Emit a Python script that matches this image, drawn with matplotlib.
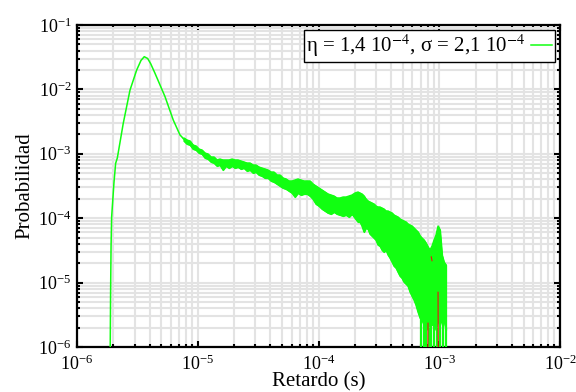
import numpy as np
import matplotlib.pyplot as plt
from matplotlib.ticker import LogLocator, NullFormatter

# Values, kept as log10 exponents
# (retardo in s, probabilidad)

# smooth rise and peak
log_t_suave = [-5.726, -5.722, -5.718, -5.713, -5.694, -5.680, -5.666, -5.617,
               -5.561, -5.506, -5.470, -5.443, -5.415, -5.390, -5.354, -5.271,
               -5.203, -5.147, -5.133, -5.114]
log_p_suave = [-6.300, -5.200, -4.440, -3.977, -3.450, -3.148, -3.065, -2.527,
               -2.010, -1.700, -1.550, -1.492, -1.520, -1.600, -1.750, -2.113,
               -2.475, -2.708, -2.735, -2.778]

# noisy tail: band of the fluctuations (upper and lower edge)
log_t_banda = [-5.114, -5.089, -5.064, -5.039, -5.014, -4.990, -4.965, -4.940,
               -4.915, -4.890, -4.865, -4.841, -4.816, -4.791, -4.766, -4.741,
               -4.716, -4.692, -4.667, -4.642, -4.617, -4.592, -4.567, -4.542,
               -4.518, -4.493, -4.468, -4.443, -4.418, -4.393, -4.369, -4.344,
               -4.319, -4.294, -4.269, -4.244, -4.219, -4.195, -4.170, -4.145,
               -4.120, -4.095, -4.070, -4.046, -4.021, -3.996, -3.971, -3.946,
               -3.921, -3.896, -3.872, -3.847, -3.822, -3.797, -3.772, -3.747,
               -3.723, -3.698, -3.673,
               -3.656, -3.640, -3.623, -3.607, -3.590, -3.574, -3.557, -3.540,
               -3.524, -3.507, -3.491, -3.474, -3.458, -3.441, -3.424, -3.408,
               -3.391, -3.375, -3.358, -3.342, -3.325, -3.309, -3.292, -3.275,
               -3.259, -3.242, -3.226, -3.209, -3.193, -3.176, -3.159, -3.143,
               -3.126, -3.110, -3.093, -3.077, -3.060, -3.043, -3.027, -3.010,
               -2.994, -2.977, -2.961, -2.944]
log_p_alta = [-2.755, -2.786, -2.801, -2.863, -2.879, -2.926, -2.941, -2.988,
              -3.003, -3.050, -3.050, -3.096, -3.081, -3.096, -3.096, -3.096,
              -3.081, -3.096, -3.096, -3.112, -3.127, -3.143, -3.143, -3.174,
              -3.174, -3.205, -3.221, -3.236, -3.252, -3.283, -3.283, -3.329,
              -3.329, -3.376, -3.391, -3.422, -3.422, -3.407, -3.391, -3.407,
              -3.422, -3.422, -3.422, -3.469, -3.500, -3.531, -3.562, -3.593,
              -3.624, -3.640, -3.655, -3.686, -3.686, -3.671, -3.671, -3.655,
              -3.640, -3.609, -3.593,
              -3.609, -3.624, -3.655, -3.702, -3.733, -3.748, -3.764, -3.780,
              -3.811, -3.826, -3.826, -3.842, -3.857, -3.888, -3.888, -3.904,
              -3.919, -3.950, -3.966, -3.981, -4.012, -4.028, -4.044, -4.059,
              -4.090, -4.106, -4.121, -4.152, -4.183, -4.214, -4.276, -4.308,
              -4.339, -4.385, -4.447, -4.494, -4.432, -4.339, -4.261, -4.121,
              -4.183, -4.571, -4.680, -4.727]
log_p_baja = [-2.801, -2.848, -2.863, -2.926, -2.941, -2.988, -3.003, -3.065,
              -3.081, -3.127, -3.143, -3.189, -3.174, -3.252, -3.189, -3.221,
              -3.189, -3.221, -3.205, -3.236, -3.221, -3.267, -3.252, -3.298,
              -3.283, -3.329, -3.345, -3.376, -3.376, -3.422, -3.438, -3.469,
              -3.500, -3.531, -3.547, -3.578, -3.609, -3.671, -3.609, -3.640,
              -3.624, -3.624, -3.655, -3.702, -3.780, -3.811, -3.857, -3.888,
              -3.919, -3.935, -3.904, -3.935, -3.950, -3.966, -3.950, -3.981,
              -3.935, -3.997, -4.059,
              -4.059, -4.121, -4.214, -4.152, -4.168, -4.245, -4.276, -4.308,
              -4.339, -4.416, -4.432, -4.494, -4.525, -4.494, -4.571, -4.618,
              -4.680, -4.742, -4.773, -4.835, -4.898, -4.929, -4.991, -5.022,
              -5.053, -5.146, -5.208, -5.270, -5.348, -5.457, -5.550, -5.581,
              -5.658, -5.550, -5.736, -5.581, -5.658, -5.550, -5.736, -5.581,
              -5.658, -5.550, -5.581, -5.736]

# isolated drops down to the axis at the end of the tail
log_t_picos = [-3.151, -3.126, -3.110, -3.085, -3.068, -3.043, -3.019,
               -2.994, -2.969, -2.944]
log_p_picos = [-5.550, -5.600, -5.550, -5.700, -5.580, -5.550, -5.700,
               -5.600, -5.550, -5.700]

# second series, only visible where the green one leaves gaps
log_t_rojo = [-3.095, -3.093, np.nan, -3.066, -3.060, np.nan, -3.010, -3.008]
log_p_rojo = [-6.300, -5.630, np.nan, -4.600, -4.660, np.nan, -5.150, -6.300]

etiqueta = 'η = 1,4 10$^{-4}$, σ = 2,1 10$^{-4}$'
verde = '#11ff11'

t_suave = 10 ** np.array(log_t_suave)
p_suave = 10 ** np.array(log_p_suave)
t_banda = 10 ** np.array(log_t_banda)
p_alta = 10 ** np.array(log_p_alta)
p_baja = 10 ** np.array(log_p_baja)

plt.rcParams['font.family'] = ['Liberation Serif', 'DejaVu Serif']
plt.rcParams['mathtext.fontset'] = 'stix'

fig = plt.figure(figsize=(5.76, 3.92), dpi=100)
ax = fig.add_axes([77 / 576, 1 - 347 / 392, 483 / 576, 322 / 392])

ax.set_xscale('log')
ax.set_yscale('log')
ax.set_xlim(1e-6, 1e-2)
ax.set_ylim(1e-6, 1e-1)

ax.plot(t_suave, p_suave, color=verde, lw=1.1, label=etiqueta, zorder=3)
ax.fill_between(t_banda, p_baja, p_alta, color=verde, lw=0.9, zorder=3)
ax.plot(t_banda, p_alta, color=verde, lw=1.0, zorder=3)
ax.plot(t_banda, p_baja, color=verde, lw=1.0, zorder=3)
ax.vlines(10 ** np.array(log_t_picos), 1e-7, 10 ** np.array(log_p_picos),
          color=verde, lw=1.6, zorder=3)
ax.plot(10 ** np.array(log_t_rojo), 10 ** np.array(log_p_rojo),
        color='#ee1111', lw=0.8, zorder=4)

# grid on every decade and sub-decade
ax.xaxis.set_major_locator(LogLocator(base=10, numticks=10))
ax.yaxis.set_major_locator(LogLocator(base=10, numticks=10))
ax.xaxis.set_minor_locator(LogLocator(base=10, subs=np.arange(2, 10), numticks=20))
ax.yaxis.set_minor_locator(LogLocator(base=10, subs=np.arange(2, 10), numticks=20))
ax.xaxis.set_minor_formatter(NullFormatter())
ax.yaxis.set_minor_formatter(NullFormatter())
ax.grid(True, which='both', color='#e3e3e3', lw=1.5, zorder=0)
ax.set_axisbelow(True)

ax.tick_params(which='both', direction='in', top=True, right=True,
               width=1.5, labelsize=13, colors='black')
ax.tick_params(which='major', length=4)
ax.tick_params(axis='x', which='major', pad=5.5)
ax.tick_params(axis='y', which='major', pad=4)
ax.tick_params(which='minor', length=2.5)
for s in ax.spines.values():
    s.set_linewidth(1.6)

ax.set_xlabel('Retardo (s)', fontsize=15, labelpad=-1)
ax.set_ylabel('Probabilidad', fontsize=15, labelpad=3)

leg = ax.legend(loc='upper right', fontsize=15, markerfirst=False,
                handlelength=1.0, handletextpad=0.3, borderpad=0.12,
                borderaxespad=0.25, fancybox=False, framealpha=1)
leg.get_frame().set_edgecolor('black')
leg.get_frame().set_linewidth(1.0)

plt.savefig('out.png', dpi=100)
